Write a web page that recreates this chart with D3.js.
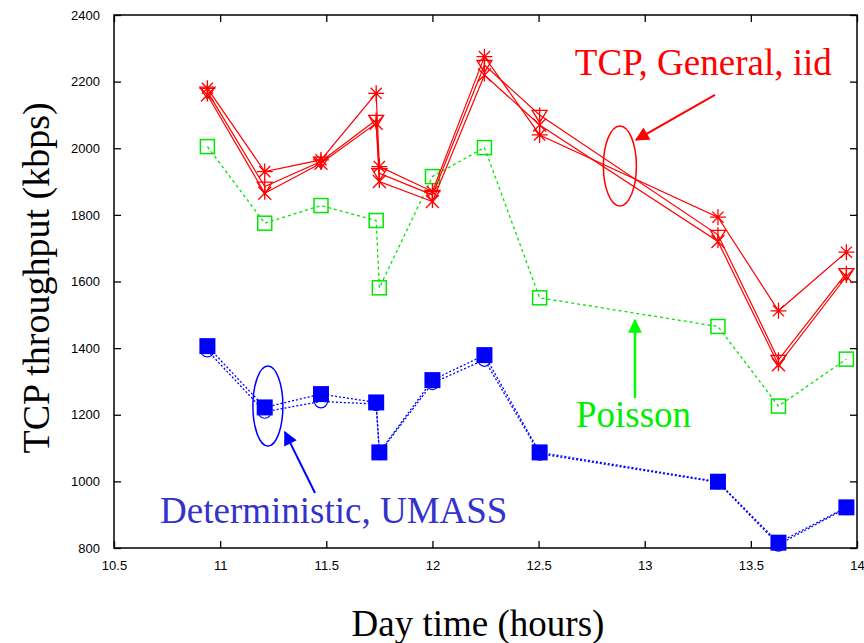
<!DOCTYPE html>
<html>
<head>
<meta charset="utf-8">
<script src="https://cdn.jsdelivr.net/npm/d3@7"></script>
<style>
  body { margin: 0; background: #fff; }
  svg { display: block; }
</style>
</head>
<body>
<div id="chart"></div>
<script>
// day time (hours) of each measurement
const hours = [10.94, 11.21, 11.475, 11.735, 11.75, 12.0, 12.245, 12.505, 13.345, 13.63, 13.95];

// TCP, General, iid (three runs)
const tcpA = [2180, 1930, 1965, 2165, 1945, 1870, 2275, 2040, 1793, 1512, 1688];
const tcpB = [2170, 1885, 1960, 2085, 1925, 1860, 2250, 2100, 1740, 1365, 1625];
const tcpC = [2160, 1865, 1955, 2075, 1900, 1840, 2220, 2070, 1720, 1350, 1615];

// Poisson
const poisson = [2005, 1775, 1828, 1783, 1581, 1915, 2002, 1551, 1465, 1226, 1367];

// Deterministic, UMASS
const detSquare = [1406, 1222, 1262, 1237, 1087, 1304, 1379, 1087, 999, 816, 922];
const detCircle = [1393, 1209, 1240, 1232, 1085, 1295, 1365, 1083, 997, 810, 920];

const xTicks = [10.5, 11, 11.5, 12, 12.5, 13, 13.5, 14];
const yTicks = [800, 1000, 1200, 1400, 1600, 1800, 2000, 2200, 2400];

const width = 864;
const height = 643;
const marginTop = 15;
const marginRight = 7;
const marginBottom = 95;
const marginLeft = 114;

const x = d3.scaleLinear().domain([10.5, 14]).range([marginLeft, width - marginRight]);
const y = d3.scaleLinear().domain([800, 2400]).range([height - marginBottom, marginTop]);

const svg = d3.create("svg").attr("width", width).attr("height", height);

const tickFont = "'Liberation Sans', Arial, sans-serif";
const serif = "'Liberation Serif', 'Times New Roman', serif";

// axes (ticks pointing inward, mirrored on the opposite side)
const fmt = (d) => String(d);
svg.append("g")
  .attr("transform", `translate(0,${height - marginBottom})`)
  .call(d3.axisBottom(x).tickValues(xTicks).tickFormat(fmt).tickSizeInner(-7).tickSizeOuter(0).tickPadding(13))
  .call((g) => g.select(".domain").remove());
svg.append("g")
  .attr("transform", `translate(0,${marginTop})`)
  .call(d3.axisTop(x).tickValues(xTicks).tickFormat("").tickSizeInner(-7).tickSizeOuter(0))
  .call((g) => g.select(".domain").remove());
svg.append("g")
  .attr("transform", `translate(${marginLeft},0)`)
  .call(d3.axisLeft(y).tickValues(yTicks).tickFormat(fmt).tickSizeInner(-7).tickSizeOuter(0).tickPadding(14))
  .call((g) => g.select(".domain").remove());
svg.append("g")
  .attr("transform", `translate(${width - marginRight},0)`)
  .call(d3.axisRight(y).tickValues(yTicks).tickFormat("").tickSizeInner(-7).tickSizeOuter(0))
  .call((g) => g.select(".domain").remove());

svg.selectAll(".tick line").attr("stroke", "#000").attr("stroke-width", 1.3);
svg.selectAll(".tick text")
  .attr("font-family", tickFont)
  .attr("font-size", 13)
  .attr("fill", "#000");

// frame
svg.append("rect")
  .attr("x", marginLeft)
  .attr("y", marginTop)
  .attr("width", width - marginLeft - marginRight)
  .attr("height", height - marginTop - marginBottom)
  .attr("fill", "none")
  .attr("stroke", "#000")
  .attr("stroke-width", 1.5);

// axis titles
svg.append("text")
  .attr("x", 478)
  .attr("y", 636)
  .attr("text-anchor", "middle")
  .attr("font-family", serif)
  .attr("font-size", 37)
  .text("Day time (hours)");
svg.append("text")
  .attr("transform", "translate(49,278) rotate(-90)")
  .attr("text-anchor", "middle")
  .attr("font-family", serif)
  .attr("font-size", 38)
  .text("TCP throughput (kbps)");

const line = d3.line().x((d) => x(d[0])).y((d) => y(d[1]));
const pairs = (vals) => hours.map((h, i) => [h, vals[i]]);

const plot = svg.append("g");

function drawLine(vals, color, dash, w) {
  plot.append("path")
    .datum(pairs(vals))
    .attr("fill", "none")
    .attr("stroke", color)
    .attr("stroke-width", w)
    .attr("stroke-dasharray", dash)
    .attr("d", line);
}

// marker shapes
const asterisk = (r) => `M${-r},0H${r}M0,${-r}V${r}M${-r * 0.7},${-r * 0.7}L${r * 0.7},${r * 0.7}M${-r * 0.7},${r * 0.7}L${r * 0.7},${-r * 0.7}`;
const triDown = (r) => `M${-r},${-r * 0.6}H${r}L0,${r}Z M0,${-r}V${r}`;
const cross = (r) => `M${-r},${-r}L${r},${r}M${-r},${r}L${r},${-r}M0,${-r}V${r}`;

function drawMarks(vals, pathFn, color) {
  plot.append("g")
    .selectAll("path")
    .data(pairs(vals))
    .join("path")
    .attr("transform", (d) => `translate(${x(d[0])},${y(d[1])})`)
    .attr("d", pathFn)
    .attr("fill", "none")
    .attr("stroke", color)
    .attr("stroke-width", 1.3);
}

// green - Poisson
drawLine(poisson, "#00e600", "3,3", 1.3);
plot.append("g")
  .selectAll("rect")
  .data(pairs(poisson))
  .join("rect")
  .attr("x", (d) => x(d[0]) - 7)
  .attr("y", (d) => y(d[1]) - 7)
  .attr("width", 14)
  .attr("height", 14)
  .attr("fill", "none")
  .attr("stroke", "#00e600")
  .attr("stroke-width", 1.5);

// blue - Deterministic, UMASS
drawLine(detCircle, "#0000ff", "2,2", 1.3);
drawLine(detSquare, "#0000ff", "2,2", 1.3);
plot.append("g")
  .selectAll("circle")
  .data(pairs(detCircle))
  .join("circle")
  .attr("cx", (d) => x(d[0]))
  .attr("cy", (d) => y(d[1]))
  .attr("r", 6.5)
  .attr("fill", "none")
  .attr("stroke", "#0000ff")
  .attr("stroke-width", 1.2);
plot.append("g")
  .selectAll("rect")
  .data(pairs(detSquare))
  .join("rect")
  .attr("x", (d) => x(d[0]) - 8)
  .attr("y", (d) => y(d[1]) - 8)
  .attr("width", 16)
  .attr("height", 16)
  .attr("fill", "#0000ff");

// red - TCP, General, iid
drawLine(tcpC, "#ff0000", null, 1.2);
drawLine(tcpB, "#ff0000", null, 1.2);
drawLine(tcpA, "#ff0000", null, 1.2);
drawMarks(tcpC, () => cross(6.5), "#ff0000");
drawMarks(tcpB, () => triDown(7.5), "#ff0000");
drawMarks(tcpA, () => asterisk(8), "#ff0000");

// annotations
const defs = svg.append("defs");
function arrowHead(id, color) {
  defs.append("marker")
    .attr("id", id)
    .attr("viewBox", "0 0 10 10")
    .attr("refX", 9)
    .attr("refY", 5)
    .attr("markerUnits", "userSpaceOnUse")
    .attr("markerWidth", 18)
    .attr("markerHeight", 14)
    .attr("orient", "auto")
    .append("path")
    .attr("d", "M0,0L10,5L0,10Z")
    .attr("fill", color);
}
arrowHead("arrRed", "#ff0000");
arrowHead("arrGreen", "#00ff00");
arrowHead("arrBlue", "#0000ff");

const notes = svg.append("g");

// red ellipse + arrow + label
notes.append("ellipse")
  .attr("cx", x(12.883)).attr("cy", y(1947))
  .attr("rx", 16.5).attr("ry", 40)
  .attr("fill", "none").attr("stroke", "#ff0000").attr("stroke-width", 1.5);
notes.append("line")
  .attr("x1", x(13.331)).attr("y1", y(2160))
  .attr("x2", x(12.959)).attr("y2", y(2025))
  .attr("stroke", "#ff0000").attr("stroke-width", 2)
  .attr("marker-end", "url(#arrRed)");
notes.append("text")
  .attr("x", x(12.671)).attr("y", y(2220))
  .attr("font-family", serif).attr("font-size", 37)
  .attr("fill", "#ff0000")
  .text("TCP, General, iid");

// green arrow + label
notes.append("line")
  .attr("x1", x(12.954)).attr("y1", y(1250))
  .attr("x2", x(12.954)).attr("y2", y(1484))
  .attr("stroke", "#00ff00").attr("stroke-width", 2.5)
  .attr("marker-end", "url(#arrGreen)");
notes.append("text")
  .attr("x", x(12.676)).attr("y", y(1163))
  .attr("font-family", serif).attr("font-size", 37)
  .attr("fill", "#00ee00")
  .text("Poisson");

// blue ellipse + arrow + label
notes.append("ellipse")
  .attr("cx", x(11.225)).attr("cy", y(1226))
  .attr("rx", 15).attr("ry", 40)
  .attr("fill", "none").attr("stroke", "#0000ff").attr("stroke-width", 1.5);
notes.append("line")
  .attr("x1", x(11.447)).attr("y1", y(965))
  .attr("x2", x(11.305)).attr("y2", y(1148))
  .attr("stroke", "#0000ff").attr("stroke-width", 2)
  .attr("marker-end", "url(#arrBlue)");
notes.append("text")
  .attr("x", x(10.717)).attr("y", y(875))
  .attr("font-family", serif).attr("font-size", 37)
  .attr("fill", "#3333cc")
  .text("Deterministic, UMASS");

document.getElementById("chart").append(svg.node());
</script>
</body>
</html>
